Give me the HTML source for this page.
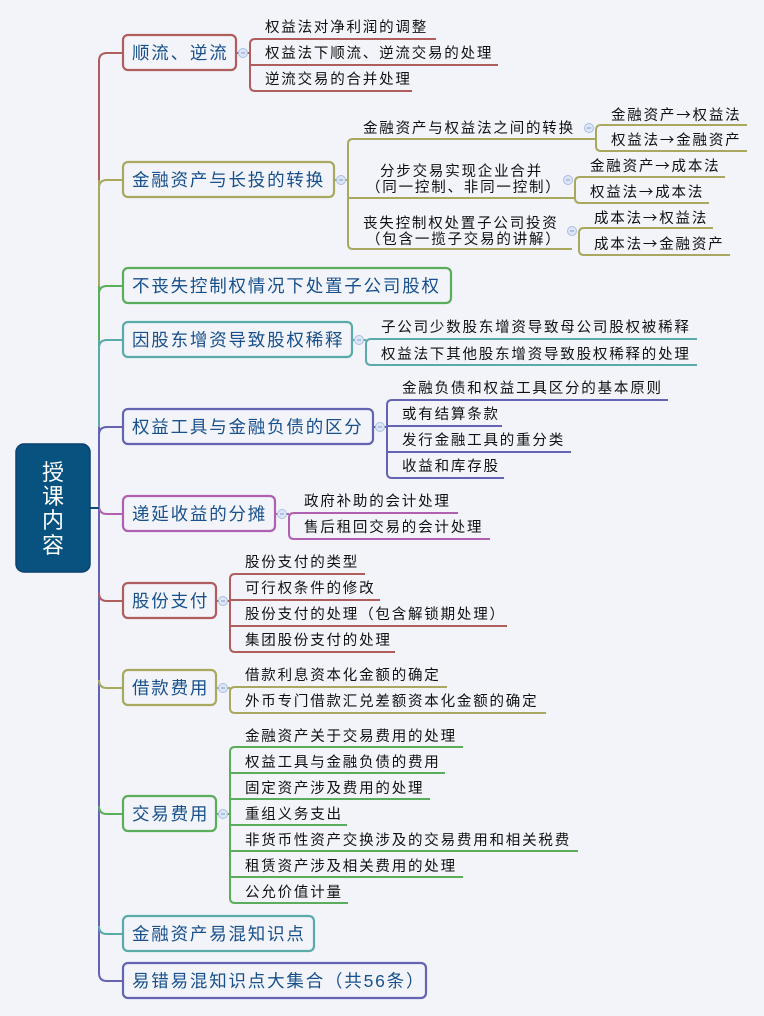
<!DOCTYPE html>
<html><head><meta charset="utf-8"><style>
html,body{margin:0;padding:0;background:#f2f4f9;}
svg{display:block;}
text{font-family:"Liberation Sans","Noto Sans CJK SC",sans-serif;}
.m{font-size:17.5px;fill:#17508a;letter-spacing:1.8px;}
.c{font-size:14.5px;fill:#111;letter-spacing:1.8px;}
.ar{font-family:"Noto Sans CJK SC",sans-serif;}
.ln{fill:none;stroke-width:2;}
.cl{fill:#dce6f7;stroke:#a9bee2;stroke-width:1;}
.nd{fill:#f3f4fa;stroke-width:2.2;}
</style></head><body>
<svg width="764" height="1016" viewBox="0 0 764 1016" xmlns="http://www.w3.org/2000/svg">
<rect width="764" height="1016" fill="#f2f4f9"/>
<g class="ln">
<path d="M99,61 V180" stroke="#b05d5d"/>
<path d="M99,180 V286" stroke="#a8a85e"/>
<path d="M99,286 V340" stroke="#5aad5a"/>
<path d="M99,340 V427" stroke="#5aaaaa"/>
<path d="M99,427 V973" stroke="#6464b2"/>
<path d="M123,53 H107 Q99,53 99,61" stroke="#b05d5d"/>
<path d="M123,180 H107 Q99,180 99,188" stroke="#a8a85e"/>
<path d="M123,286 H107 Q99,286 99,294" stroke="#5aad5a"/>
<path d="M123,340 H107 Q99,340 99,348" stroke="#5aaaaa"/>
<path d="M123,427 H107 Q99,427 99,435" stroke="#6464b2"/>
<path d="M99,506 Q99,514 107,514 H123" stroke="#b060b0"/>
<path d="M99,593 Q99,601 107,601 H123" stroke="#b05d5d"/>
<path d="M99,680 Q99,688 107,688 H123" stroke="#a8a85e"/>
<path d="M99,806 Q99,814 107,814 H123" stroke="#5aad5a"/>
<path d="M99,926 Q99,934 107,934 H123" stroke="#5aaaaa"/>
<path d="M99,973 Q99,981 107,981 H123" stroke="#6464b2"/>
<path d="M90,508 H99" stroke="#0c4a7a"/>
</g>
<rect x="16" y="444" width="74" height="128" rx="8" fill="#07527f" stroke="#0a3f70" stroke-width="1.5"/>
<g font-size="22" fill="#fff" text-anchor="middle"><text x="53" y="480">授</text><text x="53" y="504">课</text><text x="53" y="528">内</text><text x="53" y="553">容</text></g>

<rect class="nd" x="123" y="35" width="113" height="35" rx="5" stroke="#b05d5d"/><text class="m" x="132" y="59">顺流、逆流</text>
<rect class="nd" x="123" y="162" width="211" height="35" rx="5" stroke="#a8a85e"/><text class="m" x="132" y="186">金融资产与长投的转换</text>
<rect class="nd" x="123" y="268" width="328" height="35" rx="5" stroke="#5aad5a"/><text class="m" x="132" y="292">不丧失控制权情况下处置子公司股权</text>
<rect class="nd" x="123" y="322" width="229" height="35" rx="5" stroke="#5aaaaa"/><text class="m" x="132" y="346">因股东增资导致股权稀释</text>
<rect class="nd" x="123" y="409" width="250" height="35" rx="5" stroke="#6464b2"/><text class="m" x="132" y="433">权益工具与金融负债的区分</text>
<rect class="nd" x="123" y="496" width="152" height="35" rx="5" stroke="#b060b0"/><text class="m" x="132" y="520">递延收益的分摊</text>
<rect class="nd" x="123" y="583" width="93" height="35" rx="5" stroke="#b05d5d"/><text class="m" x="132" y="607">股份支付</text>
<rect class="nd" x="123" y="670" width="93" height="35" rx="5" stroke="#a8a85e"/><text class="m" x="132" y="694">借款费用</text>
<rect class="nd" x="123" y="796" width="93" height="35" rx="5" stroke="#5aad5a"/><text class="m" x="132" y="820">交易费用</text>
<rect class="nd" x="123" y="916" width="191" height="35" rx="5" stroke="#5aaaaa"/><text class="m" x="132" y="940">金融资产易混知识点</text>
<rect class="nd" x="123" y="963" width="303" height="35" rx="5" stroke="#6464b2"/><text class="m" x="132" y="987">易错易混知识点大集合（共56条）</text>

<g class="ln" stroke="#b05d5d">
<path d="M436,39 H255 Q250,39 250,44 V86 Q250,91 255,91 H412"/>
<path d="M250,65 H498"/><path d="M236,53 H250"/>
</g>
<circle class="cl" cx="243" cy="53" r="4.5"/>
<g class="c"><text x="265" y="32">权益法对净利润的调整</text><text x="265" y="58">权益法下顺流、逆流交易的处理</text><text x="265" y="84">逆流交易的合并处理</text></g>

<g class="ln" stroke="#a8a85e">
<path d="M595,139 H353 Q348,139 348,144 V244 Q348,249 353,249 H572"/>
<path d="M348,198 H575"/><path d="M334,180 H348"/>
<path d="M747,125 H601 Q596,125 596,130 V146 Q596,151 601,151 H747"/>
<path d="M725,177 H580 Q575,177 575,182 V198 Q575,203 580,203 H709"/>
<path d="M713,228 H584 Q579,228 579,233 V250 Q579,255 584,255 H730"/>
</g>
<circle class="cl" cx="341" cy="180" r="4.5"/>
<circle class="cl" cx="589" cy="128" r="4.5"/>
<circle class="cl" cx="568" cy="180" r="4.5"/>
<circle class="cl" cx="572" cy="231" r="4.5"/>
<g class="c">
<text x="363" y="133">金融资产与权益法之间的转换</text>
<text x="380" y="176">分步交易实现企业合并</text>
<text x="366" y="192">（同一控制、非同一控制）</text>
<text x="363" y="228">丧失控制权处置子公司投资</text>
<text x="366" y="244">（包含一揽子交易的讲解）</text>
<text x="611" y="120">金融资产<tspan class="ar">→</tspan>权益法</text>
<text x="611" y="145">权益法<tspan class="ar">→</tspan>金融资产</text>
<text x="590" y="171">金融资产<tspan class="ar">→</tspan>成本法</text>
<text x="590" y="197">权益法<tspan class="ar">→</tspan>成本法</text>
<text x="594" y="223">成本法<tspan class="ar">→</tspan>权益法</text>
<text x="594" y="249">成本法<tspan class="ar">→</tspan>金融资产</text>
</g>

<g class="ln" stroke="#5aaaaa">
<path d="M697,339 H371 Q366,339 366,344 V360 Q366,365 371,365 H697"/><path d="M352,340 H366"/>
</g>
<circle class="cl" cx="359" cy="340" r="4.5"/>
<g class="c"><text x="381" y="332">子公司少数股东增资导致母公司股权被稀释</text><text x="381" y="359">权益法下其他股东增资导致股权稀释的处理</text></g>

<g class="ln" stroke="#6464b2">
<path d="M668,400 H392 Q387,400 387,405 V473 Q387,478 392,478 H504"/>
<path d="M387,426 H502"/><path d="M387,452 H571"/><path d="M373,427 H387"/>
</g>
<circle class="cl" cx="380" cy="427" r="4.5"/>
<g class="c"><text x="402" y="393">金融负债和权益工具区分的基本原则</text><text x="402" y="419">或有结算条款</text><text x="402" y="445">发行金融工具的重分类</text><text x="402" y="471">收益和库存股</text></g>

<g class="ln" stroke="#b060b0">
<path d="M458,513 H294 Q289,513 289,518 V534 Q289,539 294,539 H490"/><path d="M275,514 H289"/>
</g>
<circle class="cl" cx="282" cy="514" r="4.5"/>
<g class="c"><text x="304" y="506">政府补助的会计处理</text><text x="304" y="532">售后租回交易的会计处理</text></g>

<g class="ln" stroke="#b05d5d">
<path d="M365,574 H235 Q230,574 230,579 V647 Q230,652 235,652 H395"/>
<path d="M230,600 H380"/><path d="M230,626 H507"/><path d="M216,601 H230"/>
</g>
<circle class="cl" cx="223" cy="601" r="4.5"/>
<g class="c"><text x="245" y="567">股份支付的类型</text><text x="245" y="593">可行权条件的修改</text><text x="245" y="619">股份支付的处理（包含解锁期处理）</text><text x="245" y="645">集团股份支付的处理</text></g>

<g class="ln" stroke="#a8a85e">
<path d="M447,687 H235 Q230,687 230,692 V708 Q230,713 235,713 H546"/><path d="M216,688 H230"/>
</g>
<circle class="cl" cx="223" cy="688" r="4.5"/>
<g class="c"><text x="245" y="680">借款利息资本化金额的确定</text><text x="245" y="706">外币专门借款汇兑差额资本化金额的确定</text></g>

<g class="ln" stroke="#5aad5a">
<path d="M463,747 H235 Q230,747 230,752 V898 Q230,903 235,903 H348"/>
<path d="M230,773 H445"/><path d="M230,799 H430"/><path d="M230,825 H347"/><path d="M230,851 H578"/><path d="M230,877 H463"/><path d="M216,814 H230"/>
</g>
<circle class="cl" cx="223" cy="814" r="4.5"/>
<g class="c"><text x="245" y="741">金融资产关于交易费用的处理</text><text x="245" y="767">权益工具与金融负债的费用</text><text x="245" y="793">固定资产涉及费用的处理</text><text x="245" y="819">重组义务支出</text><text x="245" y="845">非货币性资产交换涉及的交易费用和相关税费</text><text x="245" y="871">租赁资产涉及相关费用的处理</text><text x="245" y="897">公允价值计量</text></g>

<g stroke="#7f9ccc" stroke-width="1">
<path d="M241,53h4M339,180h4M587,128h4M566,180h4M570,231h4M357,340h4M378,427h4M280,514h4M221,601h4M221,688h4M221,814h4"/>
</g>
</svg>
</body></html>
